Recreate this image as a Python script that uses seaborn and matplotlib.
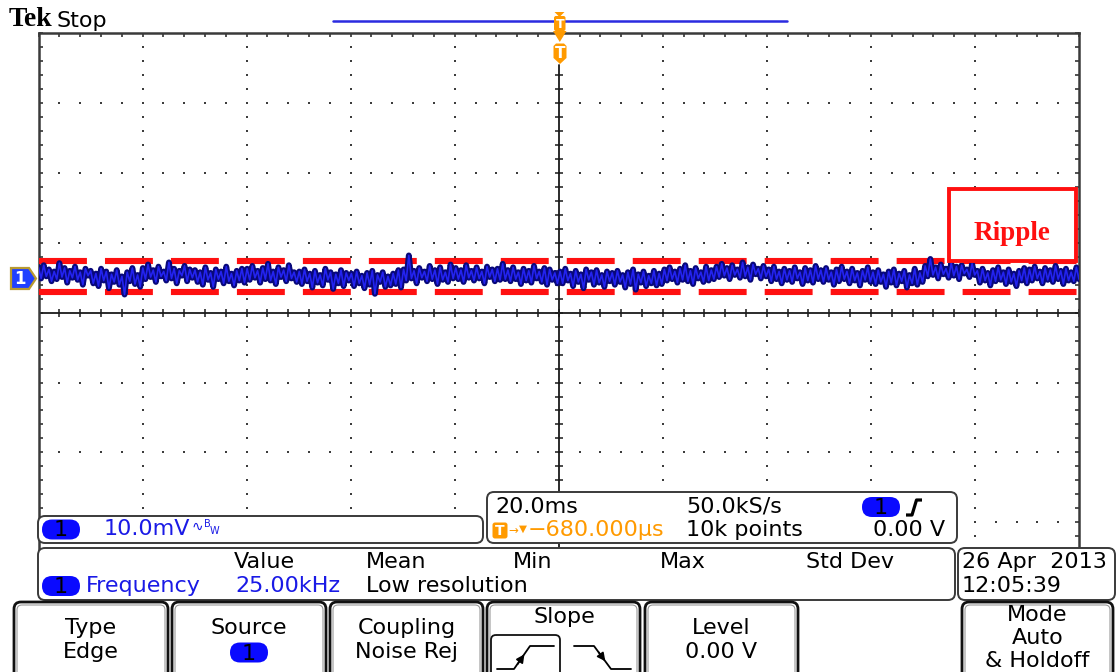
import numpy as np
import matplotlib
matplotlib.use("Agg")
import matplotlib.pyplot as plt
from matplotlib.patches import FancyBboxPatch, Rectangle, Polygon
import seaborn as sns

# ---------------- acquisition settings ----------------
volts_per_div_mv = 10.0      # CH1 scale
time_per_div_ms = 20.0       # horizontal scale
n_hdiv, n_vdiv = 10, 8
ch1_offset_div = 0.5         # CH1 ground marker position
ripple_limits_mv = [2.4, -2.1]   # ripple envelope, relative to CH1 ground

# CH1 record (mV, relative to ground), left to right across the screen
ch1_mv = [
    1.5, -0.1, 1.8, 0.2, 1.2, -0.5, 0.9, -0.2, 2.1, 0.1, 1.4, -0.7, 1.0, 0.0, 1.6, -0.3, 0.8, -1.0, 1.3, 0.3,
    1.0, -0.8, 0.6, -1.2, 1.3, -0.4, 0.9, -1.5, 0.5, -0.6, 1.1, -1.0, 0.2, -2.4, 0.8, -0.5, 1.4, -0.9, 0.4, -1.3,
    1.4, -0.2, 1.9, 0.1, 1.1, -0.6, 1.6, 0.2, 0.9, -0.4, 2.2, -0.1, 1.3, -0.8, 1.0, 0.3, 1.7, -0.5, 1.2, 0.0,
    1.1, -0.6, 0.8, -1.0, 1.5, -0.3, 0.7, -1.3, 1.2, -0.2, 0.9, -0.8, 1.6, -0.5, 0.6, -1.1, 1.0, -0.4, 1.3, -0.7,
    1.3, -0.3, 1.7, 0.0, 1.0, -0.7, 1.4, -0.2, 2.0, -0.4, 0.9, -0.9, 1.5, 0.1, 1.1, -0.5, 1.8, -0.1, 0.8, -0.6,
    0.9, -0.9, 1.2, -0.5, 0.6, -1.4, 1.0, -0.7, 0.4, -1.1, 1.3, -0.3, 0.8, -1.6, 0.5, -0.8, 1.1, -1.2, 0.7, -0.4,
    0.6, -1.2, 0.9, -0.8, 0.3, -1.5, 0.7, -1.0, 1.0, -2.3, 0.4, -0.6, 0.8, -1.3, 0.2, -1.1, 0.6, -0.9, 1.1, -1.4,
    1.2, -0.4, 3.2, -0.1, 1.0, -0.8, 1.4, 0.0, 0.9, -0.5, 1.7, -0.2, 1.1, -0.9, 1.5, -0.3, 0.8, -0.6, 1.9, -0.1,
    1.4, -0.2, 1.1, -0.6, 1.8, 0.0, 1.0, -0.4, 1.5, -0.1, 0.9, -0.8, 1.6, 0.1, 1.2, -0.5, 1.3, -0.3, 2.0, -0.2,
    1.1, -0.5, 1.5, -0.2, 0.8, -0.9, 1.3, -0.4, 1.0, -0.7, 1.7, -0.1, 0.9, -0.6, 1.4, -1.0, 1.2, -0.3, 0.7, -0.8,
    0.9, -0.8, 1.3, -0.4, 0.6, -1.2, 1.0, -0.6, 0.5, -1.5, 1.2, -0.3, 0.8, -1.0, 1.1, -0.7, 0.4, -1.3, 0.9, -0.5,
    0.7, -1.0, 1.0, -0.6, 0.4, -1.4, 0.8, -0.9, 1.2, -1.7, 0.5, -0.7, 0.9, -1.2, 0.3, -0.8, 1.0, -1.1, 0.6, -0.9,
    1.2, -0.4, 1.5, -0.2, 0.9, -0.7, 1.3, -0.3, 1.8, -0.5, 1.0, -0.9, 1.4, -0.1, 0.8, -0.6, 1.6, -0.4, 1.1, -0.2,
    1.6, 0.1, 2.0, 0.3, 1.4, -0.2, 1.8, 0.4, 1.2, 0.0, 2.2, 0.2, 1.5, -0.3, 1.9, 0.5, 1.3, -0.1, 1.7, 0.2,
    1.2, -0.5, 1.6, -0.2, 0.9, -0.8, 1.3, -0.3, 1.0, -0.6, 1.5, -0.1, 0.8, -0.9, 1.4, -0.4, 1.1, -0.7, 1.7, -0.2,
    1.1, -0.6, 1.4, -0.3, 0.8, -1.0, 1.2, -0.5, 1.6, -0.2, 0.9, -0.8, 1.3, -0.4, 0.7, -1.1, 1.0, -0.3, 1.5, -0.6,
    0.8, -0.9, 1.1, -0.6, 0.5, -1.3, 0.9, -0.7, 1.2, -1.1, 0.6, -0.5, 1.0, -1.4, 0.4, -0.8, 1.3, -1.0, 0.7, -0.6,
    1.7, 0.2, 2.7, 0.4, 1.5, -0.1, 1.9, 0.5, 1.3, 0.0, 2.1, 0.3, 1.6, -0.2, 1.8, 0.6, 1.2, 0.1, 2.0, 0.4,
    1.0, -0.7, 1.3, -0.4, 0.7, -1.1, 1.1, -0.5, 1.5, -0.3, 0.8, -0.9, 1.2, -0.6, 0.6, -1.2, 1.0, -0.4, 1.4, -0.8,
    1.2, -0.4, 1.6, -0.1, 0.9, -0.8, 1.4, -0.3, 1.1, -0.6, 1.7, -0.2, 1.0, -0.9, 1.3, -0.4, 0.8, -0.5, 1.5, -0.2,
]

# readout strings
scale_label = "10.0mV"
timebase_label = "20.0ms"
sample_rate_label = "50.0kS/s"
trigger_pos_label = "\u2212680.000\u00b5s"
record_label = "10k points"
trigger_level_label = "0.00 V"
meas_headers = ["Value", "Mean", "Min", "Max", "Std Dev"]
meas_name = "Frequency"
meas_value = "25.00kHz"
meas_note = "Low resolution"
date_label = "26 Apr  2013"
time_label = "12:05:39"

# ---------------- style ----------------
sns.set_style("white")
plt.rcParams["font.family"] = ["DejaVu Sans"]
plt.rcParams["lines.scale_dashes"] = False

W, H = 1117, 672
fig = plt.figure(figsize=(W / 100, H / 100), dpi=100)
fig.patch.set_facecolor("white")

# graticule area (pixels)
gl, gr, gt, gb = 38.5, 1079.0, 33.3, 592.1
ax = fig.add_axes([gl / W, (H - gb) / H, (gr - gl) / W, (gb - gt) / H])

x_half = n_hdiv / 2 * time_per_div_ms
y_half = n_vdiv / 2 * volts_per_div_mv
ax.set_xlim(-x_half, x_half)
ax.set_ylim(-y_half, y_half)

# dotted graticule
minor_x = np.arange(-x_half, x_half + 1e-6, time_per_div_ms / 5)
minor_y = np.arange(-y_half, y_half + 1e-6, volts_per_div_mv / 5)
major_x = np.arange(-x_half, x_half + 1e-6, time_per_div_ms)[1:-1]
major_y = np.arange(-y_half, y_half + 1e-6, volts_per_div_mv)[1:-1]
dot_kw = dict(s=2.2, marker="s", linewidths=0, color="#3c3c3c", zorder=1)
for mx in major_x:
    if abs(mx) > 1e-9:
        ax.scatter(np.full_like(minor_y, mx), minor_y, **dot_kw)
for my in major_y:
    if abs(my) > 1e-9:
        ax.scatter(minor_x, np.full_like(minor_x, my), **dot_kw)

# centre cross-hair with minor ticks
top_gap = (65 - gt) / (gb - gt)
ax.axhline(0, color="#1a1a1a", lw=1.3, zorder=2)
ax.axvline(0, ymax=1 - top_gap, color="#1a1a1a", lw=1.3, zorder=2)
ax.scatter(minor_x, np.zeros_like(minor_x), marker="|", s=30, color="#1a1a1a", linewidths=1.1, zorder=2)
cy = minor_y[minor_y < y_half - top_gap * 2 * y_half]
ax.scatter(np.zeros_like(cy), cy, marker="_", s=30, color="#1a1a1a", linewidths=1.1, zorder=2)

# border ticks
ax.set_xticks(np.arange(-x_half, x_half + 1e-6, time_per_div_ms))
ax.set_xticks(minor_x, minor=True)
ax.set_yticks(np.arange(-y_half, y_half + 1e-6, volts_per_div_mv))
ax.set_yticks(minor_y, minor=True)
ax.tick_params(which="both", direction="in", top=True, bottom=False, left=True, right=True,
               labeltop=False, labelbottom=False, labelleft=False, labelright=False,
               length=3, width=1.2, color="#333333")
for side in ["top", "left", "right"]:
    ax.spines[side].set_color("#3a3a3a")
    ax.spines[side].set_linewidth(1.8)
ax.spines["bottom"].set_visible(False)
ax.set_xlabel("")
ax.set_ylabel("")

# ripple envelope
ch1_ground = ch1_offset_div * volts_per_div_mv
for lim in ripple_limits_mv:
    ax.axhline(lim + ch1_ground, color="#ff1010", lw=4.4, dashes=(34.5, 13.0), zorder=3)

# CH1 trace: dark phosphor body with a brighter core
t_ms = np.linspace(-x_half, x_half, len(ch1_mv))
screen_mv = np.array(ch1_mv) + ch1_ground
sns.lineplot(x=t_ms, y=screen_mv, ax=ax, color="#08087a", lw=4.2, estimator=None, sort=False, zorder=4)
sns.lineplot(x=t_ms, y=screen_mv, ax=ax, color="#2323f0", lw=1.2, estimator=None, sort=False, zorder=4)

# ---------------- instrument chrome (pixel overlay) ----------------
ov = fig.add_axes([0, 0, 1, 1], zorder=5)
ov.set_xlim(0, W)
ov.set_ylim(H, 0)
ov.axis("off")
ov.patch.set_alpha(0)

FS = 16
BLUE_TXT = "#1a1ae6"
ORANGE = "#ff9a00"


def rbox(x0, y0, x1, y1, r=7, ec="#3a3a3a", lw=1.4, fc="white", z=1):
    p = FancyBboxPatch((x0, y0), x1 - x0, y1 - y0,
                       boxstyle=f"round,pad=0,rounding_size={r}",
                       ec=ec, fc=fc, lw=lw, zorder=z)
    ov.add_patch(p)


def pill(cx, cy, label="1"):
    rbox(cx - 19, cy - 10, cx + 19, cy + 10, r=10, ec="none", fc="#0a0aff", z=3)
    ov.text(cx, cy + 1, label, ha="center", va="center", fontsize=FS, color="black", zorder=4)


def txt(x, y, s, color="black", ha="left", size=FS, **kw):
    ov.text(x, y, s, ha=ha, va="center", fontsize=size, color=color, zorder=4, **kw)


# header
ov.text(9, 20, "Tek", ha="left", va="center", fontsize=20, fontweight="bold",
        family="Liberation Serif", color="black")
txt(57, 21, "Stop")
ov.plot([333, 787], [21, 21], color="#2b2be0", lw=1.8, zorder=2)

# trigger position markers
ov.add_patch(Polygon([[554.5, 12], [564.5, 12], [559.5, 17]], closed=True, fc=ORANGE, ec="none", zorder=3))
rbox(554, 16, 565.5, 31, r=2, ec="none", fc=ORANGE, z=3)
ov.text(559.8, 24, "T", ha="center", va="center", fontsize=9, fontweight="bold", color="white", zorder=4)
ov.add_patch(Polygon([[553, 31], [566.5, 31], [559.8, 42]], closed=True, fc=ORANGE, ec="none", zorder=3))
ov.add_patch(Polygon([[553.5, 46], [553.5, 58], [560, 64], [566.5, 58], [566.5, 46], [564, 43.5], [556, 43.5]],
                     closed=True, fc=ORANGE, ec="none", zorder=3))
ov.text(560, 53, "T", ha="center", va="center", fontsize=11, fontweight="bold", color="white", zorder=4)

# CH1 ground marker
ov.add_patch(Polygon([[11, 268], [29, 268], [36, 278.5], [29, 289], [11, 289]], closed=True,
                     fc="#2040ff", ec="#b89a30", lw=1.6, zorder=3))
ov.text(20, 279, "1", ha="center", va="center", fontsize=12, fontweight="bold", color="white", zorder=4)

# ripple annotation
ov.add_patch(Rectangle((949, 189), 127, 72, fc="white", ec="#ff1010", lw=2.8, zorder=2))
ov.text(1012, 233, "Ripple", ha="center", va="center", fontsize=19.5, fontweight="bold",
        family="Liberation Serif", color="#ff1010", zorder=4)

# channel readout
rbox(38, 516, 483, 543)
pill(61, 529.5)
txt(104, 529, scale_label, color=BLUE_TXT)
txt(192, 527, "\u223f", color=BLUE_TXT, size=10)
txt(204, 524, "B", color=BLUE_TXT, size=7)
txt(210, 531, "W", color=BLUE_TXT, size=7)

# timebase readout
rbox(487, 492, 957, 543)
txt(495, 507, timebase_label)
txt(686, 507, sample_rate_label)
pill(881, 507)
ov.plot([906, 912, 916.5, 922], [515, 515, 500, 500], color="black", lw=2.3, zorder=4,
        solid_capstyle="butt")
rbox(492.5, 522.5, 507.5, 538.5, r=2.5, ec="none", fc=ORANGE, z=3)
ov.text(500, 531, "T", ha="center", va="center", fontsize=10, fontweight="bold", color="white", zorder=4)
txt(508, 530, "\u2192", color=ORANGE, size=8.5)
txt(519, 529, "\u25bc", color=ORANGE, size=7.5)
txt(528, 530, trigger_pos_label, color=ORANGE)
txt(686, 530, record_label)
txt(945, 530, trigger_level_label, ha="right")

# measurement readout
rbox(38, 548, 955, 600)
for hx, h in zip([234, 366, 513, 660, 806], meas_headers):
    txt(hx, 562, h)
pill(61, 586)
txt(86, 586, meas_name, color=BLUE_TXT)
txt(235, 586, meas_value, color=BLUE_TXT)
txt(366, 586, meas_note)

# date / time
rbox(958, 548, 1115, 600)
txt(962, 562, date_label)
txt(962, 586, time_label)

# soft keys
buttons = [
    (14, 168, ["Type", "Edge"]),
    (172, 326, ["Source", None]),
    (330, 483, ["Coupling", "Noise Rej"]),
    (487, 640, None),
    (645, 798, ["Level", "0.00 V"]),
    (962, 1113, ["Mode", "Auto", "& Holdoff"]),
]
for x0, x1, lines in buttons:
    rbox(x0, 602, x1, 700, r=7, ec="#111111", lw=2.0)
    rbox(x0 + 3, 605, x1 - 3, 700, r=5, ec="#9a9a9a", lw=0.8, fc="none")
    cx = (x0 + x1) / 2
    if lines is None:
        continue
    if len(lines) == 2:
        txt(cx, 628, lines[0], ha="center")
        if lines[1] is None:
            pill(cx, 652.5)
        else:
            txt(cx, 652, lines[1], ha="center")
    else:
        for yy, s in zip([615, 638, 661], lines):
            txt(cx, yy, s, ha="center")

# slope key
txt(564, 617, "Slope", ha="center")
rbox(491, 635, 560, 700, r=5, ec="#111111", lw=1.3, fc="none")
ov.plot([497, 514, 530, 554], [669, 669, 646, 646], color="black", lw=1.3, zorder=4)
ov.annotate("", xy=(526, 652), xytext=(516, 666.5),
            arrowprops=dict(arrowstyle="-|>", color="black", lw=1.2, mutation_scale=12), zorder=4)
ov.plot([574, 594, 611, 631], [646, 646, 669, 669], color="black", lw=1.3, zorder=4)
ov.annotate("", xy=(607, 663.5), xytext=(597, 650),
            arrowprops=dict(arrowstyle="-|>", color="black", lw=1.2, mutation_scale=12), zorder=4)

fig.savefig("out.png", dpi=100, facecolor="white")
